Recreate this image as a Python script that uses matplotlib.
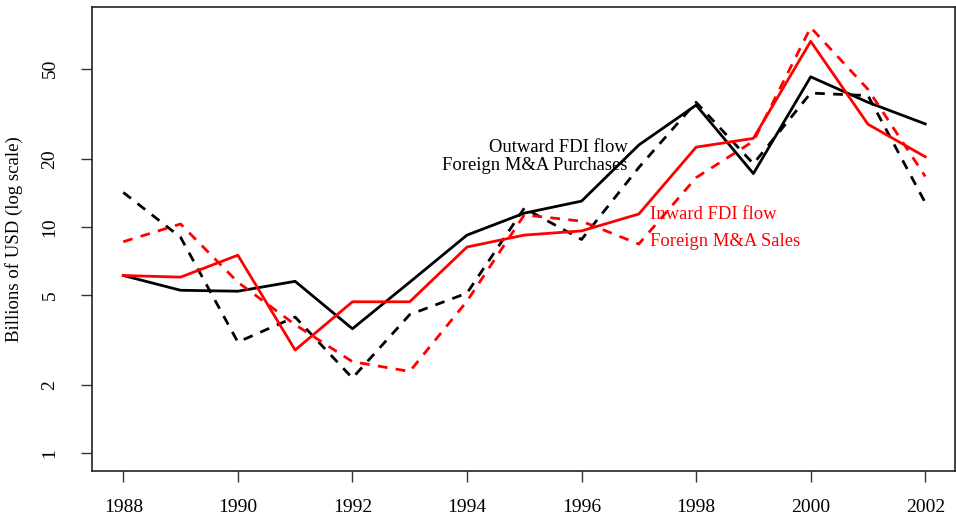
import numpy as np
import matplotlib
matplotlib.use("Agg")
import matplotlib.pyplot as plt

plt.rcParams['font.family'] = ['Liberation Serif', 'DejaVu Serif']

years = list(range(1988, 2003))
outward_fdi = [6.1, 5.25, 5.2, 5.75, 3.55, 5.7, 9.2, 11.5, 13.0, 23.0, 34.5, 17.2, 46.0, 35.5, 28.5]
ma_purchases = [14.2, 9.0, 3.1, 4.0, 2.15, 4.1, 5.1, 12.1, 8.8, 18.3, 35.5, 19.0, 39.0, 38.0, 12.8]
inward_fdi = [6.1, 6.0, 7.5, 2.86, 4.67, 4.67, 8.15, 9.2, 9.6, 11.4, 22.5, 24.6, 66.0, 28.4, 20.4]
ma_sales = [8.6, 10.3, 5.7, 3.7, 2.54, 2.3, 4.7, 11.3, 10.6, 8.4, 16.5, 23.9, 76.0, 40.5, 16.7]

yticks = [1, 2, 5, 10, 20, 50]
xticks = list(range(1988, 2003, 2))

fig = plt.figure(figsize=(9.56, 5.19), dpi=100)
ax = fig.add_axes([0.096, 0.093, 0.903, 0.894])

lw = 2.0
ax.plot(years, outward_fdi, color='black', lw=lw)
ax.plot(years, ma_purchases, color='black', lw=lw, dashes=[3.5, 3])
ax.plot(years, inward_fdi, color='red', lw=lw)
ax.plot(years, ma_sales, color='red', lw=lw, dashes=[3.5, 3])

ax.set_yscale('log')
ax.set_ylim(0.838, 93.8)
ax.set_xlim(1987.45, 2002.52)
ax.set_yticks(yticks)
ax.set_yticklabels([str(v) for v in yticks], rotation=90, va='center')
ax.minorticks_off()
ax.set_xticks(xticks)
ax.set_xticklabels([str(v) for v in xticks])
ax.tick_params(axis='both', direction='out', length=8, width=1, labelsize=14, color='#333333')
ax.tick_params(axis='x', pad=12)
ax.tick_params(axis='y', pad=16)
for s in ax.spines.values():
    s.set_linewidth(1.2)
    s.set_color('#222222')

ax.set_ylabel('Billions of USD (log scale)', fontsize=13.5, labelpad=13)

ax.text(1996.8, 22.5, 'Outward FDI flow', ha='right', va='center', fontsize=13.4, color='black')
ax.text(1996.8, 18.6, 'Foreign M&A Purchases', ha='right', va='center', fontsize=13.4, color='black')
ax.text(1997.2, 11.3, 'Inward FDI flow', ha='left', va='center', fontsize=13.4, color='red')
ax.text(1997.2, 8.6, 'Foreign M&A Sales', ha='left', va='center', fontsize=13.4, color='red')

fig.savefig('out.png', dpi=100)
